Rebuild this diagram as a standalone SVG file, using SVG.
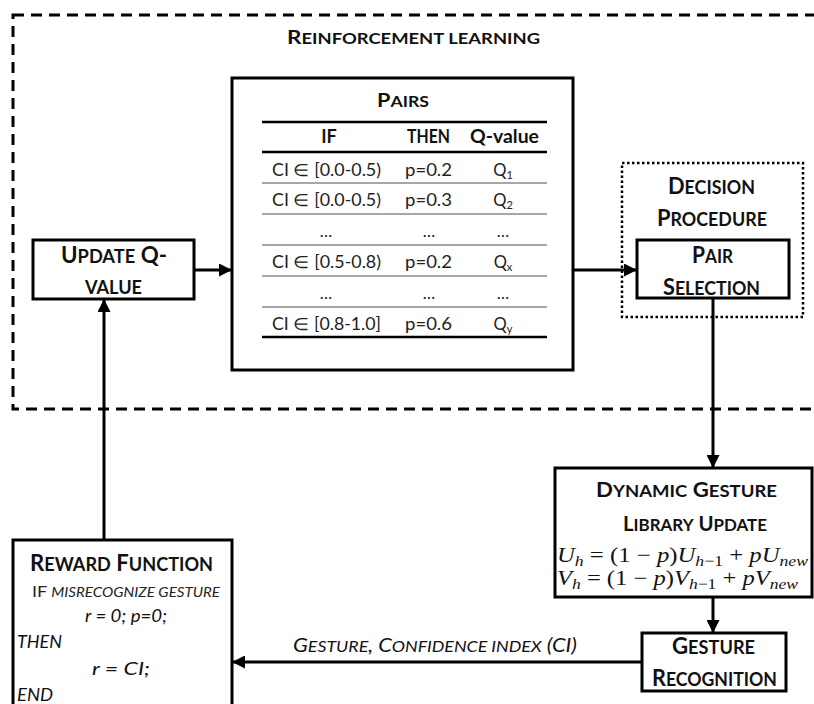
<svg xmlns="http://www.w3.org/2000/svg" width="814" height="704" viewBox="0 0 814 704">
<style>
.box{fill:#fff;stroke:#000;stroke-width:3}
.b{font-family:Lato,"Open Sans","Liberation Sans",sans-serif;font-weight:bold;fill:#111}
.r{font-family:Lato,"Open Sans","Liberation Sans",sans-serif;fill:#222}
.i{font-family:Lato,"Open Sans","Liberation Sans",sans-serif;font-style:italic;fill:#111}
.m{font-family:"Liberation Serif","DejaVu Serif",serif;fill:#111;font-size:21px}
.mi{font-style:italic}
.conn{fill:none;stroke:#000;stroke-width:3}
.thick{stroke:#000;stroke-width:2.5}
.thin{stroke:#8a8a8a;stroke-width:1.5}
</style>
<defs>
<marker id="arr" viewBox="0 0 10 10" refX="10" refY="5" markerUnits="userSpaceOnUse" markerWidth="13" markerHeight="13" orient="auto">
<path d="M0,0 L10,5 L0,10 z" fill="#000"/>
</marker>
</defs>
<rect width="814" height="704" fill="#fff"/>

<g id="rl-frame">
<rect x="13" y="15" width="850" height="394" fill="none" stroke="#000" stroke-width="3" stroke-dasharray="11 7"/>
<text class="b" x="287" y="44" textLength="253" lengthAdjust="spacingAndGlyphs" font-size="19"><tspan>R</tspan><tspan font-size="15.5">EINFORCEMENT LEARNING</tspan></text>
</g>

<g id="pairs">
<rect class="box" x="232" y="78" width="341" height="292"/>
<text class="b" x="377" y="107" textLength="52" lengthAdjust="spacingAndGlyphs" font-size="19">P<tspan font-size="15.5">AIRS</tspan></text>
<line class="thick" x1="262" y1="122" x2="547" y2="122"/>
<line class="thick" x1="262" y1="152" x2="547" y2="152"/>
<line class="thin" x1="262" y1="183" x2="547" y2="183"/>
<line class="thin" x1="262" y1="214" x2="547" y2="214"/>
<line class="thin" x1="262" y1="245" x2="547" y2="245"/>
<line class="thin" x1="262" y1="276" x2="547" y2="276"/>
<line class="thin" x1="262" y1="307" x2="547" y2="307"/>
<line class="thick" x1="262" y1="337" x2="547" y2="337"/>
<g class="b" font-size="18">
<text x="329" y="143" text-anchor="middle">IF</text>
<text x="407" y="143" textLength="43" lengthAdjust="spacingAndGlyphs">THEN</text>
<text x="470" y="143" textLength="69" lengthAdjust="spacingAndGlyphs">Q-value</text>
</g>
<g class="r" font-size="16.5">
<text x="272" y="176" textLength="109" lengthAdjust="spacingAndGlyphs">CI ∈ [0.0-0.5)</text>
<text x="405" y="176" textLength="47" lengthAdjust="spacingAndGlyphs">p=0.2</text>
<text x="503" y="176" text-anchor="middle">Q<tspan font-size="11" dy="3">1</tspan></text>
<text x="272" y="206" textLength="109" lengthAdjust="spacingAndGlyphs">CI ∈ [0.0-0.5)</text>
<text x="405" y="206" textLength="47" lengthAdjust="spacingAndGlyphs">p=0.3</text>
<text x="503" y="206" text-anchor="middle">Q<tspan font-size="11" dy="3">2</tspan></text>
<text x="326" y="237" text-anchor="middle">…</text>
<text x="429" y="237" text-anchor="middle">…</text>
<text x="503" y="237" text-anchor="middle">…</text>
<text x="272" y="268" textLength="109" lengthAdjust="spacingAndGlyphs">CI ∈ [0.5-0.8)</text>
<text x="405" y="268" textLength="47" lengthAdjust="spacingAndGlyphs">p=0.2</text>
<text x="503" y="268" text-anchor="middle">Q<tspan font-size="11" dy="3">x</tspan></text>
<text x="326" y="299" text-anchor="middle">…</text>
<text x="429" y="299" text-anchor="middle">…</text>
<text x="503" y="299" text-anchor="middle">…</text>
<text x="272" y="330" textLength="109" lengthAdjust="spacingAndGlyphs">CI ∈ [0.8-1.0]</text>
<text x="405" y="330" textLength="47" lengthAdjust="spacingAndGlyphs">p=0.6</text>
<text x="503" y="330" text-anchor="middle">Q<tspan font-size="11" dy="3">y</tspan></text>
</g>
</g>

<g id="update-q">
<rect class="box" x="33" y="240" width="161" height="59"/>
<text class="b" x="61" y="263" textLength="106" lengthAdjust="spacingAndGlyphs" font-size="22">U<tspan font-size="18">PDATE</tspan> Q-</text>
<text class="b" x="85" y="294" textLength="57" lengthAdjust="spacingAndGlyphs" font-size="18">VALUE</text>
</g>

<g id="decision-procedure">
<rect x="622" y="163" width="181" height="154" fill="none" stroke="#000" stroke-width="2.5" stroke-dasharray="2.5 2.5"/>
<text class="b" x="668" y="194" textLength="87" lengthAdjust="spacingAndGlyphs" font-size="22">D<tspan font-size="18">ECISION</tspan></text>
<text class="b" x="657" y="226" textLength="110" lengthAdjust="spacingAndGlyphs" font-size="22">P<tspan font-size="18">ROCEDURE</tspan></text>
</g>

<g id="pair-selection">
<rect class="box" x="637" y="240" width="152" height="58"/>
<text class="b" x="692" y="263" textLength="41" lengthAdjust="spacingAndGlyphs" font-size="22">P<tspan font-size="18">AIR</tspan></text>
<text class="b" x="663" y="295" textLength="97" lengthAdjust="spacingAndGlyphs" font-size="22">S<tspan font-size="18">ELECTION</tspan></text>
</g>

<g id="dynamic-library">
<rect class="box" x="555" y="468" width="257" height="129"/>
<text class="b" x="596" y="497" textLength="181" lengthAdjust="spacingAndGlyphs" font-size="21">D<tspan font-size="17.5">YNAMIC</tspan> G<tspan font-size="17.5">ESTURE</tspan></text>
<text class="b" x="623" y="531" textLength="144" lengthAdjust="spacingAndGlyphs" font-size="21">L<tspan font-size="17.5">IBRARY</tspan> U<tspan font-size="17.5">PDATE</tspan></text>
<text class="m" x="557" y="562" textLength="251" lengthAdjust="spacingAndGlyphs"><tspan class="mi">U</tspan><tspan class="mi" font-size="15" dy="4">h</tspan><tspan dy="-4"> = (1 − </tspan><tspan class="mi">p</tspan>)<tspan class="mi">U</tspan><tspan class="mi" font-size="15" dy="4">h</tspan><tspan font-size="15">−1</tspan><tspan dy="-4"> + </tspan><tspan class="mi">pU</tspan><tspan class="mi" font-size="15" dy="4">new</tspan></text>
<text class="m" x="557" y="585" textLength="241" lengthAdjust="spacingAndGlyphs"><tspan class="mi">V</tspan><tspan class="mi" font-size="15" dy="4">h</tspan><tspan dy="-4"> = (1 − </tspan><tspan class="mi">p</tspan>)<tspan class="mi">V</tspan><tspan class="mi" font-size="15" dy="4">h</tspan><tspan font-size="15">−1</tspan><tspan dy="-4"> + </tspan><tspan class="mi">pV</tspan><tspan class="mi" font-size="15" dy="4">new</tspan></text>
</g>

<g id="gesture-recognition">
<rect class="box" x="642" y="633" width="144" height="58"/>
<text class="b" x="672" y="654" textLength="83" lengthAdjust="spacingAndGlyphs" font-size="22">G<tspan font-size="18">ESTURE</tspan></text>
<text class="b" x="652" y="686" textLength="125" lengthAdjust="spacingAndGlyphs" font-size="22">R<tspan font-size="18">ECOGNITION</tspan></text>
</g>

<g id="reward-function">
<rect class="box" x="13" y="540" width="219" height="170"/>
<text class="b" x="30" y="571" textLength="183" lengthAdjust="spacingAndGlyphs" font-size="22">R<tspan font-size="18">EWARD</tspan> F<tspan font-size="18">UNCTION</tspan></text>
<text class="r" x="32" y="597" textLength="188" lengthAdjust="spacingAndGlyphs" font-size="16">IF <tspan font-style="italic" font-size="13.5">MISRECOGNIZE GESTURE</tspan></text>
<text class="i" x="85" y="622" textLength="82" lengthAdjust="spacingAndGlyphs" font-size="17">r = 0; p=0;</text>
<text class="i" x="17" y="648" textLength="45" lengthAdjust="spacingAndGlyphs" font-size="17">THEN</text>
<text class="i" x="92" y="675" textLength="58" lengthAdjust="spacingAndGlyphs" font-size="17">r = CI;</text>
<text class="i" x="17" y="701" textLength="36" lengthAdjust="spacingAndGlyphs" font-size="17">END</text>
</g>

<g id="connectors">
<path class="conn" d="M194,270 L232,270" marker-end="url(#arr)"/>
<path class="conn" d="M573,270 L637,270" marker-end="url(#arr)"/>
<path class="conn" d="M713,298 L713,468" marker-end="url(#arr)"/>
<path class="conn" d="M713,597 L713,633" marker-end="url(#arr)"/>
<path class="conn" d="M642,662 L232,662" marker-end="url(#arr)"/>
<path class="conn" d="M104,540 L104,299" marker-end="url(#arr)"/>
<text class="i" x="293" y="652" textLength="284" lengthAdjust="spacingAndGlyphs" font-size="19">G<tspan font-size="15.5">ESTURE</tspan>, C<tspan font-size="15.5">ONFIDENCE INDEX</tspan> (CI)</text>
</g>
</svg>
